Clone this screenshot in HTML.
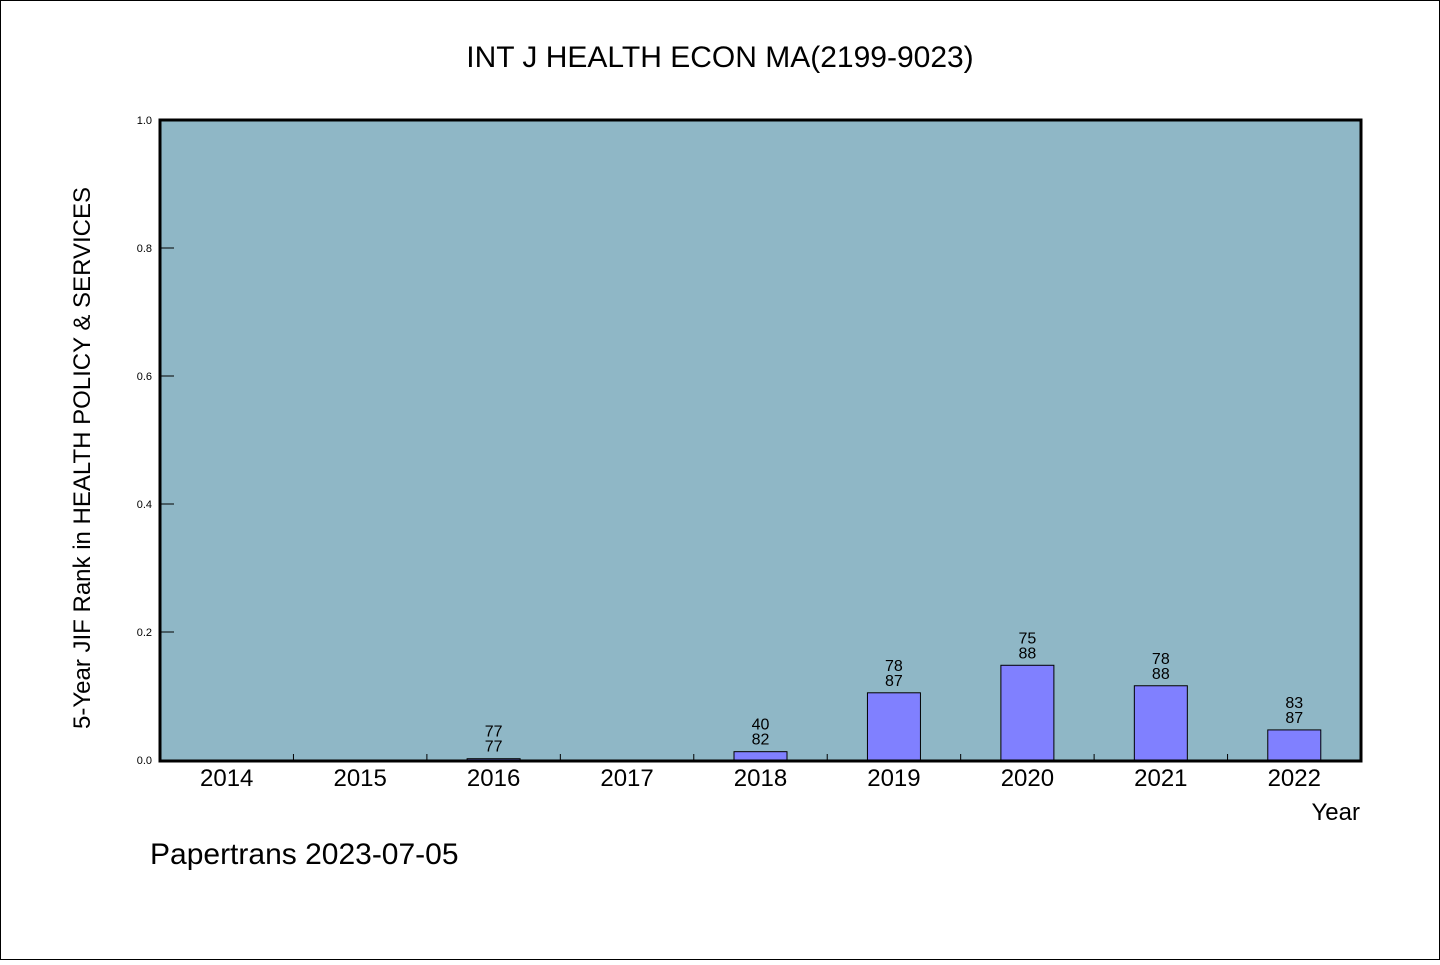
<!DOCTYPE html>
<html><head><meta charset="utf-8"><style>
body{margin:0;background:#fff;}
svg text{font-family:"WenQuanYi Zen Hei","Liberation Sans",sans-serif;}
</style></head><body>
<svg width="1440" height="960" viewBox="0 0 1440 960">
<rect x="0.5" y="0.5" width="1439" height="959" fill="#fff" stroke="#000"/>
<text x="720" y="67" font-size="30" text-anchor="middle">INT J HEALTH ECON MA(2199-9023)</text>
<rect x="160" y="120" width="1201" height="641" fill="#8fb7c6"/>
<g id="marks"></g>
<rect x="160" y="120" width="1201" height="641" fill="none" stroke="#000" stroke-width="3"/>
<text transform="translate(90,458) rotate(-90)" font-size="24" text-anchor="middle">5-Year JIF Rank in HEALTH POLICY &amp; SERVICES</text>
<text x="1360" y="820" font-size="24" text-anchor="end">Year</text>
<text x="150" y="864" font-size="30">Papertrans 2023-07-05</text>
</svg>
<script>
const categories=["2014","2015","2016","2017","2018","2019","2020","2021","2022"];
const values=[null,null,0.002,null,0.013,0.105,0.148,0.116,0.047];
const labelTop=[null,null,"77",null,"40","78","75","78","83"];
const labelBottom=[null,null,"77",null,"82","87","88","88","87"];
const yTicks=[0,0.2,0.4,0.6,0.8,1.0];
const yTickLabels=["0.0","0.2","0.4","0.6","0.8","1.0"];
const NS="http://www.w3.org/2000/svg";
const g=document.getElementById('marks');
const x0=160,x1=1361,y0=760,y1=120;
const step=(x1-x0)/categories.length;
const xc=i=>x0+step*(i+0.5);
const ys=v=>y0-(y0-y1)*v;
function mk(t,a){const e=document.createElementNS(NS,t);for(const k in a)e.setAttribute(k,a[k]);g.appendChild(e);return e;}
yTicks.forEach((v,i)=>{
 const l=mk('line',{x1:x0,x2:x0+14,y1:ys(v),y2:ys(v),stroke:'#000','stroke-width':1});
 
 
 const t=mk('text',{x:x0-8,y:ys(v)+4,'font-size':11,'text-anchor':'end'});
 t.textContent=yTickLabels[i];
 
 
});
categories.forEach((c,i)=>{
 if(i>0){const l=mk('line',{x1:x0+step*i,x2:x0+step*i,y1:y0,y2:y0-6,stroke:'#000','stroke-width':1});
 
 }
 const t=mk('text',{x:xc(i),y:786,'font-size':24,'text-anchor':'middle'});
 t.textContent=c;
 
 
 const v=values[i];
 if(v!==null){
  const r=mk('rect',{x:xc(i)-26.5,y:ys(v),width:53,height:Math.max(ys(0)-ys(v),0.5),fill:'#8080ff',stroke:'#000','stroke-width':1});
  
  
  const a=mk('text',{x:xc(i),y:ys(v)-22,'font-size':16,'text-anchor':'middle'});
  a.textContent=labelTop[i];
  
  
  const b=mk('text',{x:xc(i),y:ys(v)-7,'font-size':16,'text-anchor':'middle'});
  b.textContent=labelBottom[i];
  
  
 }
});
</script>
</body></html>
